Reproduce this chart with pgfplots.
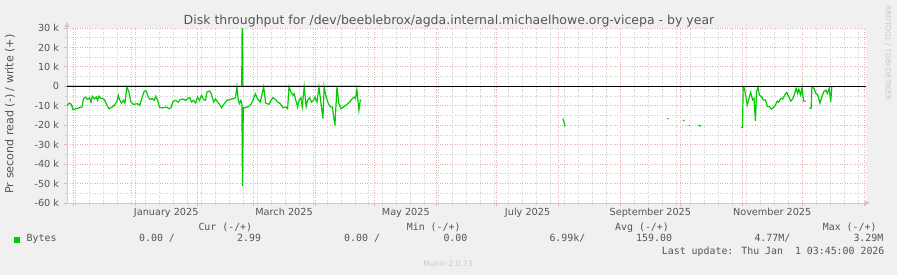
\documentclass[border=0pt]{standalone}
\usepackage{pgfplots}
\pgfplotsset{compat=1.18}
\usepackage{fontspec}
\setmainfont{DejaVu Sans}
\newfontfamily\monof{DejaVu Sans Mono}
\usetikzlibrary{arrows.meta}
\definecolor{bgc}{HTML}{F0F0F0}
\definecolor{txt}{HTML}{555555}
\definecolor{mgrid}{HTML}{E8AEAE}
\definecolor{sgrid}{HTML}{CFCFCF}
\definecolor{axc}{HTML}{C8C8F0}
\definecolor{grn}{HTML}{00CC00}
\definecolor{wm}{HTML}{C8C8C8}
\newcommand\axf{\fontsize{9.7bp}{11bp}\selectfont}
\begin{document}
\begin{tikzpicture}[x=1bp,y=1bp]
\fill[bgc] (0,0) rectangle (897,275);
\useasboundingbox (0,0) rectangle (897,275);
\begin{axis}[
  at={(67bp,72bp)}, anchor=south west, scale only axis,
  width=799bp, height=175bp,
  xmin=-34.2, xmax=366, ymin=-60, ymax=30,
  axis background/.style={fill=white},
  axis x line=bottom, axis y line=left,
  axis line style={draw=axc, line width=0.8bp},
  x axis line style={-{Triangle[length=5bp,width=5bp]}, shorten >=-4bp},
  y axis line style={-{Triangle[length=5bp,width=5bp]}, shorten >=-6bp},
  xtick={-31,0,31,59,90,120,151,181,212,243,273,304,334,365},
  xticklabels={},
  minor xtick={-30,-23,...,366},
  ytick={-60,-50,...,30},
  yticklabels={-60 k,-50 k,-40 k,-30 k,-20 k,-10 k,0,10 k,20 k,30 k},
  minor ytick={-55,-45,...,25},
  grid=both,
  major grid style={draw=mgrid, dash pattern=on 1bp off 1.5bp, line width=0.8bp},
  minor grid style={draw=sgrid, dash pattern=on 1bp off 1.5bp, line width=0.8bp},
  tick align=outside,
  major tick length=3bp, minor tick length=2bp,
  every major tick/.append style={draw=mgrid, solid, line width=0.8bp},
  every minor tick/.append style={draw=sgrid, solid, line width=0.8bp},
  extra x ticks={15.5,74.5,135.5,196.5,258,319},
  extra x tick labels={January 2025,March 2025,May 2025,July 2025,September 2025,November 2025},
  extra x tick style={grid=none, major tick length=0pt},
  xticklabel style={font=\axf, text=txt, anchor=base, inner sep=0pt, yshift=-12.3bp},
  yticklabel style={font=\axf, text=txt, anchor=east, inner sep=0pt, xshift=-4.7bp},
  unbounded coords=jump,
  clip=true,
]
% read (-)
\addplot[grn, line width=1.2bp] coordinates {
(-34.2,-9.8) (-33.0,-8.6) (-32.0,-9.3) (-31.2,-12.0) (-29.5,-11.5) (-26.7,-10.6) (-25.9,-6.3) (-24.9,-5.5) (-23.9,-6.8) (-22.9,-5.8) (-22.2,-8.1) (-21.5,-5.1) (-20.5,-6.5) (-19.5,-5.5) (-18.9,-7.2) (-18.2,-5.1) (-17.2,-6.2) (-16.5,-6.2) (-15.5,-6.8) (-14.5,-8.9) (-13.2,-11.5) (-11.5,-10.6) (-10.5,-9.8) (-9.2,-7.7) (-8.5,-4.6) (-7.9,-6.8) (-6.9,-8.6) (-5.9,-7.2) (-5.2,-8.6) (-4.2,-0.3) (-3.2,-2.9) (-2.2,-8.1) (-0.9,-9.3) (1.2,-8.9) (2.2,-9.8) (3.5,-5.5) (4.5,-2.4) (5.5,-2.4) (6.5,-5.5) (7.5,-6.8) (8.5,-6.3) (9.5,-7.2) (10.2,-5.1) (11.2,-7.2) (12.2,-11.0) (14.2,-11.0) (15.5,-10.6) (16.9,-11.5) (17.9,-11.0) (18.9,-7.7) (20.2,-7.2) (21.5,-8.1) (22.5,-6.8) (23.9,-6.5) (25.2,-7.2) (26.2,-6.3) (27.2,-5.8) (28.2,-8.1) (29.2,-7.2) (30.2,-8.6) (31.2,-5.5) (32.2,-7.2) (33.2,-4.6) (34.2,-6.8) (35.2,-7.2) (35.9,-2.9) (37.2,-2.4) (38.2,-4.1) (39.2,-8.1) (40.2,-6.5) (41.2,-8.1) (42.2,-9.3) (43.2,-11.0) (44.6,-8.9) (45.9,-7.2) (47.6,-6.7) (49.2,-6.3) (50.2,-5.8) (50.9,-0.3) (51.6,-7.2) (52.2,-8.9) (52.9,-7.2) (53.4,-9.0) (53.7,-51.3) (54.1,-11.0) (54.9,-11.0) (56.7,-10.4) (57.9,-9.3) (58.9,-7.2) (60.1,-3.8) (61.2,-6.3) (62.6,-8.1) (64.3,-0.3) (65.3,-8.6) (67.0,-9.3) (68.0,-7.2) (69.0,-5.8) (70.3,-6.8) (71.3,-8.1) (72.6,-8.9) (74.0,-11.0) (75.3,-10.6) (76.3,-11.5) (77.0,-0.3) (78.0,-2.9) (79.0,-4.6) (79.6,-3.8) (80.3,-6.8) (81.3,-10.6) (82.0,-7.2) (83.0,-5.8) (83.6,-10.6) (84.6,-0.3) (85.6,-10.4) (86.3,-7.2) (87.3,-5.8) (88.3,-8.1) (89.3,-7.2) (90.0,-5.5) (91.0,-8.1) (92.0,-0.3) (93.0,-8.6) (94.0,-16.6) (94.6,-0.3) (95.6,-5.5) (96.7,-8.9) (97.7,-10.6) (98.7,-10.6) (100.0,-20.1) (101.0,-0.3) (102.0,-8.9) (103.0,-11.5) (104.3,-10.6) (106.0,-9.3) (107.3,-8.1) (108.7,-6.3) (109.7,-5.5) (110.3,-6.3) (111.0,-1.7) (112.0,-12.3) (112.7,-7.2) (113.3,-7.2)
(113.8,nan)
(214.2,-16.6) (215.3,-20.6) (215.8,nan)
(266.4,-16.6) (267.1,-16.6) (267.6,nan)
(274.3,-17.6) (275.1,-17.6) (275.6,nan)
(277.1,-20.2) (277.9,-20.2) (278.4,nan)
(282.1,-19.9) (283.3,-20.6) (283.8,nan)
(303.5,-21.2) (304.1,-21.2) (304.5,-0.3) (305.1,-1.0) (305.8,-5.3) (306.5,-9.6) (307.2,-7.0) (308.2,-3.1) (309.2,-7.0) (309.9,-6.2) (310.6,-17.8) (311.2,-2.7) (311.9,-0.3) (312.6,-4.5) (313.6,-5.3) (314.6,-7.0) (315.6,-7.0) (316.6,-10.4) (317.6,-10.4) (318.6,-11.7) (319.6,-11.0) (320.6,-9.6) (321.6,-7.6) (322.3,-8.2) (323.3,-6.2) (324.3,-6.5) (325.3,-4.5) (326.3,-3.1) (327.3,-5.3) (328.3,-7.6) (329.3,-6.5) (330.3,-3.6) (331.0,-1.0) (331.7,-3.6) (332.3,-1.4) (333.3,-4.5) (334.0,-0.6) (334.7,-7.6) (336.0,-7.6)
(336.8,nan)
(337.6,-11.3) (338.5,-11.3) (338.9,-0.3) (339.9,-1.0) (340.9,-3.6) (341.9,-4.5) (342.9,-8.7) (343.9,-5.3) (344.9,-2.7) (345.9,-1.9) (346.6,-3.6) (347.6,-1.0) (348.3,-7.9) (348.9,-0.3)
};
% write (+)
\addplot[grn, line width=1.2bp] coordinates {
(-34.2,0) (53.3,0) (53.6,40) (53.9,0) (113.3,0)
};
% zero line
\addplot[black, line width=1bp] coordinates {(-34.2,0) (366,0)};
\end{axis}
% title
\node[anchor=base, text=txt, font=\fontsize{12.5bp}{15bp}\selectfont, inner sep=0pt] at (449,251) {Disk throughput for /dev/beeblebrox/agda.internal.michaelhowe.org-vicepa - by year};
% y label
\node[rotate=90, anchor=center, text=txt, font=\fontsize{11.1bp}{13bp}\selectfont, inner sep=0pt] at (10,161) {Pr second read (-) / write (+)};
% watermark right
\node[rotate=-90, anchor=center, text=wm, font=\fontsize{7.4bp}{9bp}\selectfont, inner sep=0pt] at (888,222) {RRDTOOL / TOBI OETIKER};
% legend
\begin{scope}[every node/.style={anchor=base west, inner sep=0pt, text=txt, font=\monof\fontsize{9.9bp}{12bp}\selectfont}]
\node at (198.3,45) {Cur (-/+)};
\node at (406.7,45) {Min (-/+)};
\node at (615,45) {Avg (-/+)};
\node at (822.7,45) {Max (-/+)};
\fill[grn] (14,32.5) rectangle (20,38.5);
\node at (26.5,33.5) {Bytes};
\node at (139,33.5) {0.00 /};
\node at (237,33.5) {2.99};
\node at (344,33.5) {0.00 /};
\node at (443.3,33.5) {0.00};
\node at (549.3,33.5) {6.99k/};
\node at (636,33.5) {159.00};
\node at (754.3,33.5) {4.77M/};
\node at (853.3,33.5) {3.29M};
\node at (661.7,21) {Last update: Thu Jan\ \ 1 03:45:00 2026};
\end{scope}
\node[anchor=base, text=wm, font=\fontsize{7.5bp}{9bp}\selectfont, inner sep=0pt] at (448,9) {Munin 2.0.73};
\end{tikzpicture}
\end{document}
